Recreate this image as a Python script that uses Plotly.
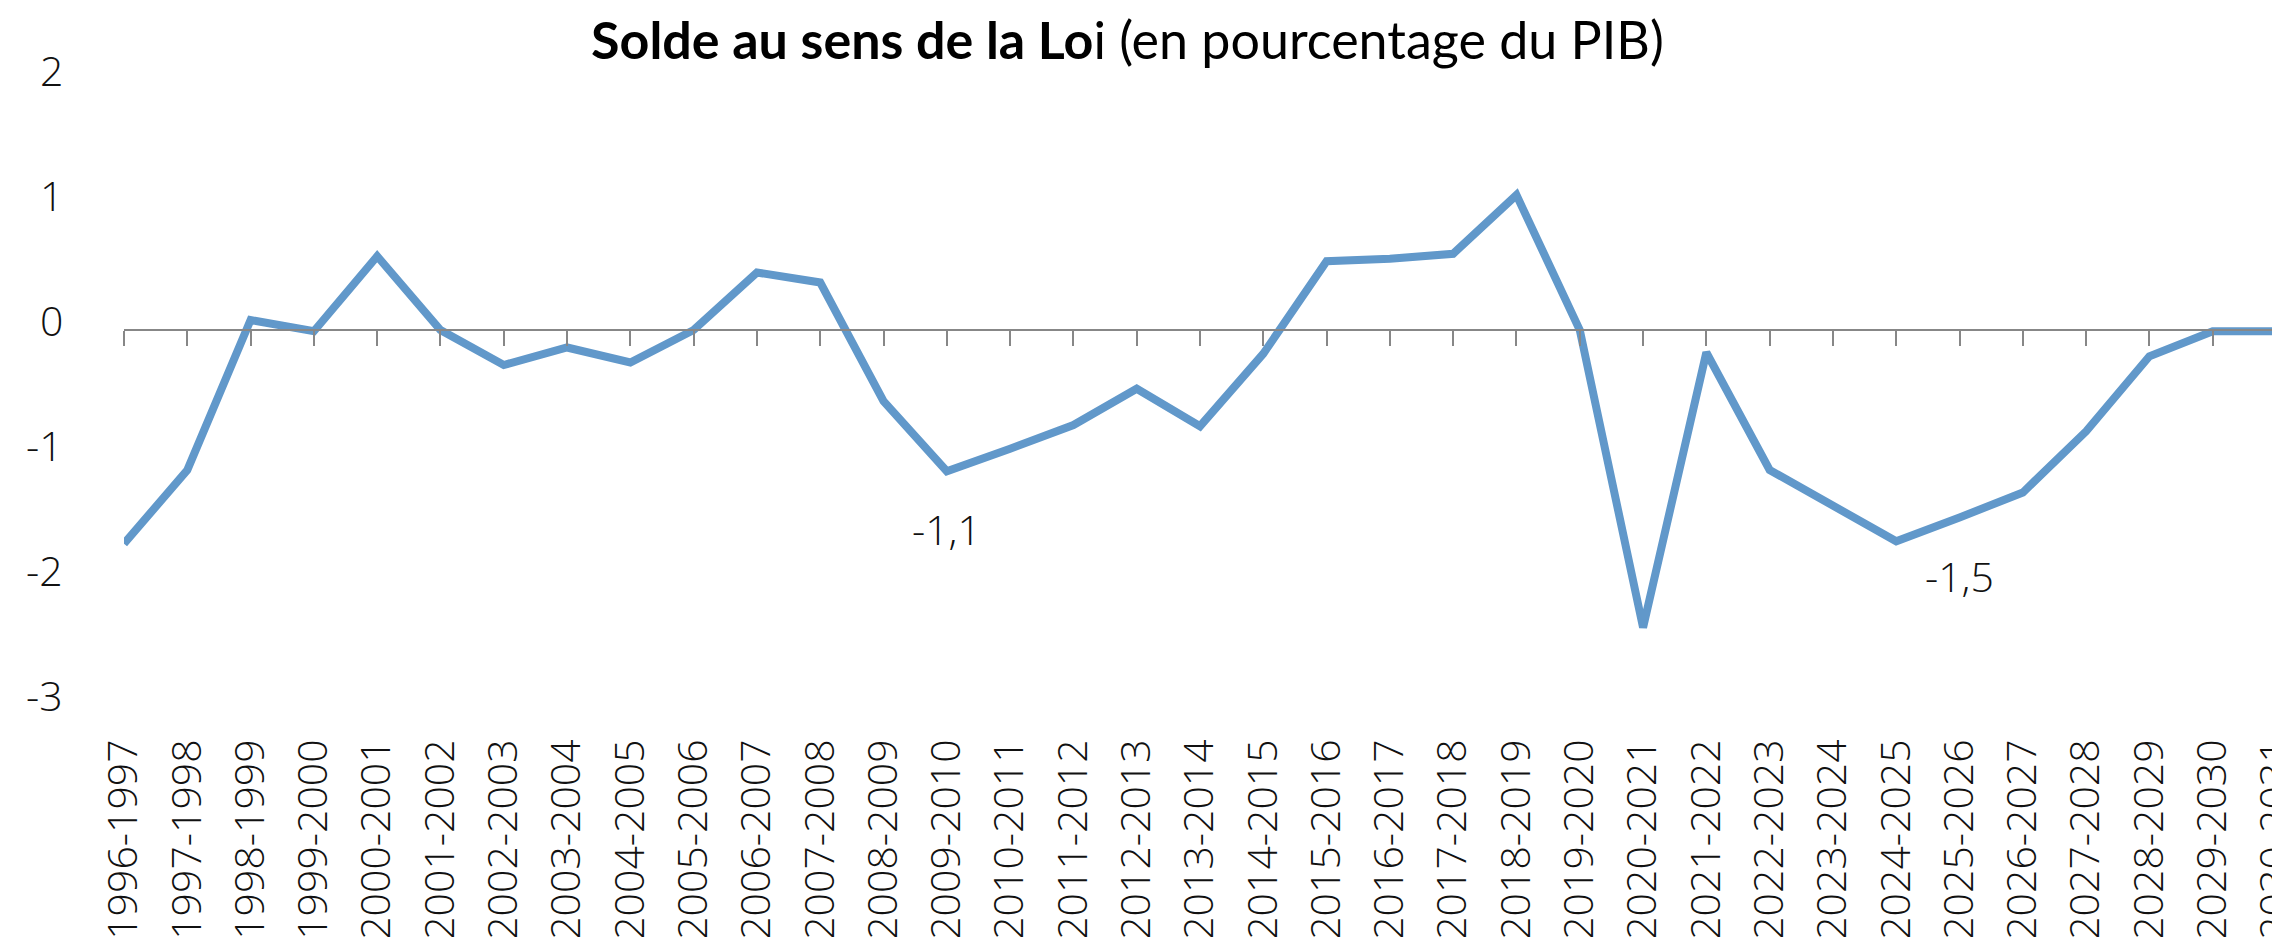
import plotly.graph_objects as go

periods = [f"{y}-{y+1}" for y in range(1996, 2031)]
solde = [-1.71, -1.12, 0.08, -0.01, 0.59, 0.00, -0.28, -0.14, -0.26, 0.00,
         0.46, 0.38, -0.57, -1.13, -0.95, -0.76, -0.47, -0.77, -0.19, 0.55,
         0.57, 0.61, 1.08, 0.00, -2.38, -0.18, -1.12, -1.41, -1.69, -1.50,
         -1.30, -0.81, -0.21, -0.01, -0.01]
label_periods = ["2009-2010", "2025-2026"]
label_texts = ["-1,1", "-1,5"]
y_ticks = [2, 1, 0, -1, -2, -3]

W, H = 2280, 937
M_L, M_R, M_T, M_B = 116, 12, 72, 240
plot_h = H - M_T - M_B
y_min, y_max = -3, 2
zero_frac = (0 - y_min) / (y_max - y_min)
zero_px_from_bottom = zero_frac * plot_h

LABEL_FONT = dict(family="Open Sans", size=41, color="#111111", weight=300)

fig = go.Figure()
fig.add_trace(go.Scatter(
    x=periods, y=solde, mode="lines",
    line=dict(color="#6198CA", width=8),
    showlegend=False, hoverinfo="skip",
))

# data labels below the chosen points
for p, t in zip(label_periods, label_texts):
    fig.add_annotation(
        x=p, y=solde[periods.index(p)], text=t, showarrow=False,
        yshift=-58, font=LABEL_FONT, xanchor="center", yanchor="middle",
    )

# y-axis labels (drawn slightly above their value, as in the reference)
for v in y_ticks:
    fig.add_annotation(
        x=0, xref="paper", y=v, yref="y", text=str(v), showarrow=False,
        xanchor="right", yanchor="middle", xshift=-59, yshift=10,
        font=LABEL_FONT,
    )

fig.update_layout(
    width=W, height=H,
    margin=dict(l=M_L, r=M_R, t=M_T, b=M_B, autoexpand=False),
    paper_bgcolor="white", plot_bgcolor="white",
    title=dict(
        text="<b>Solde au sens de la Lo</b>i (en pourcentage du PIB)",
        font=dict(family="Lato", size=52, color="#000000"),
        x=0.491, xanchor="center", xref="container",
        y=1 - 33 / H, yanchor="middle", yref="container",
    ),
    xaxis=dict(
        type="category", range=[0, len(periods) - 1],
        anchor="free", position=zero_frac,
        showline=True, linecolor="#878787", linewidth=2,
        ticks="outside", ticklen=15, tickwidth=2, tickcolor="#878787",
        tickangle=-90, tickfont=LABEL_FONT,
        ticklabelstandoff=int(zero_px_from_bottom) + 2,
        showgrid=False, zeroline=False, automargin=False,
    ),
    yaxis=dict(
        range=[y_min, y_max], showticklabels=False,
        showline=False, showgrid=False, zeroline=False,
        ticks="", automargin=False,
    ),
)

fig.write_html("out.html")
